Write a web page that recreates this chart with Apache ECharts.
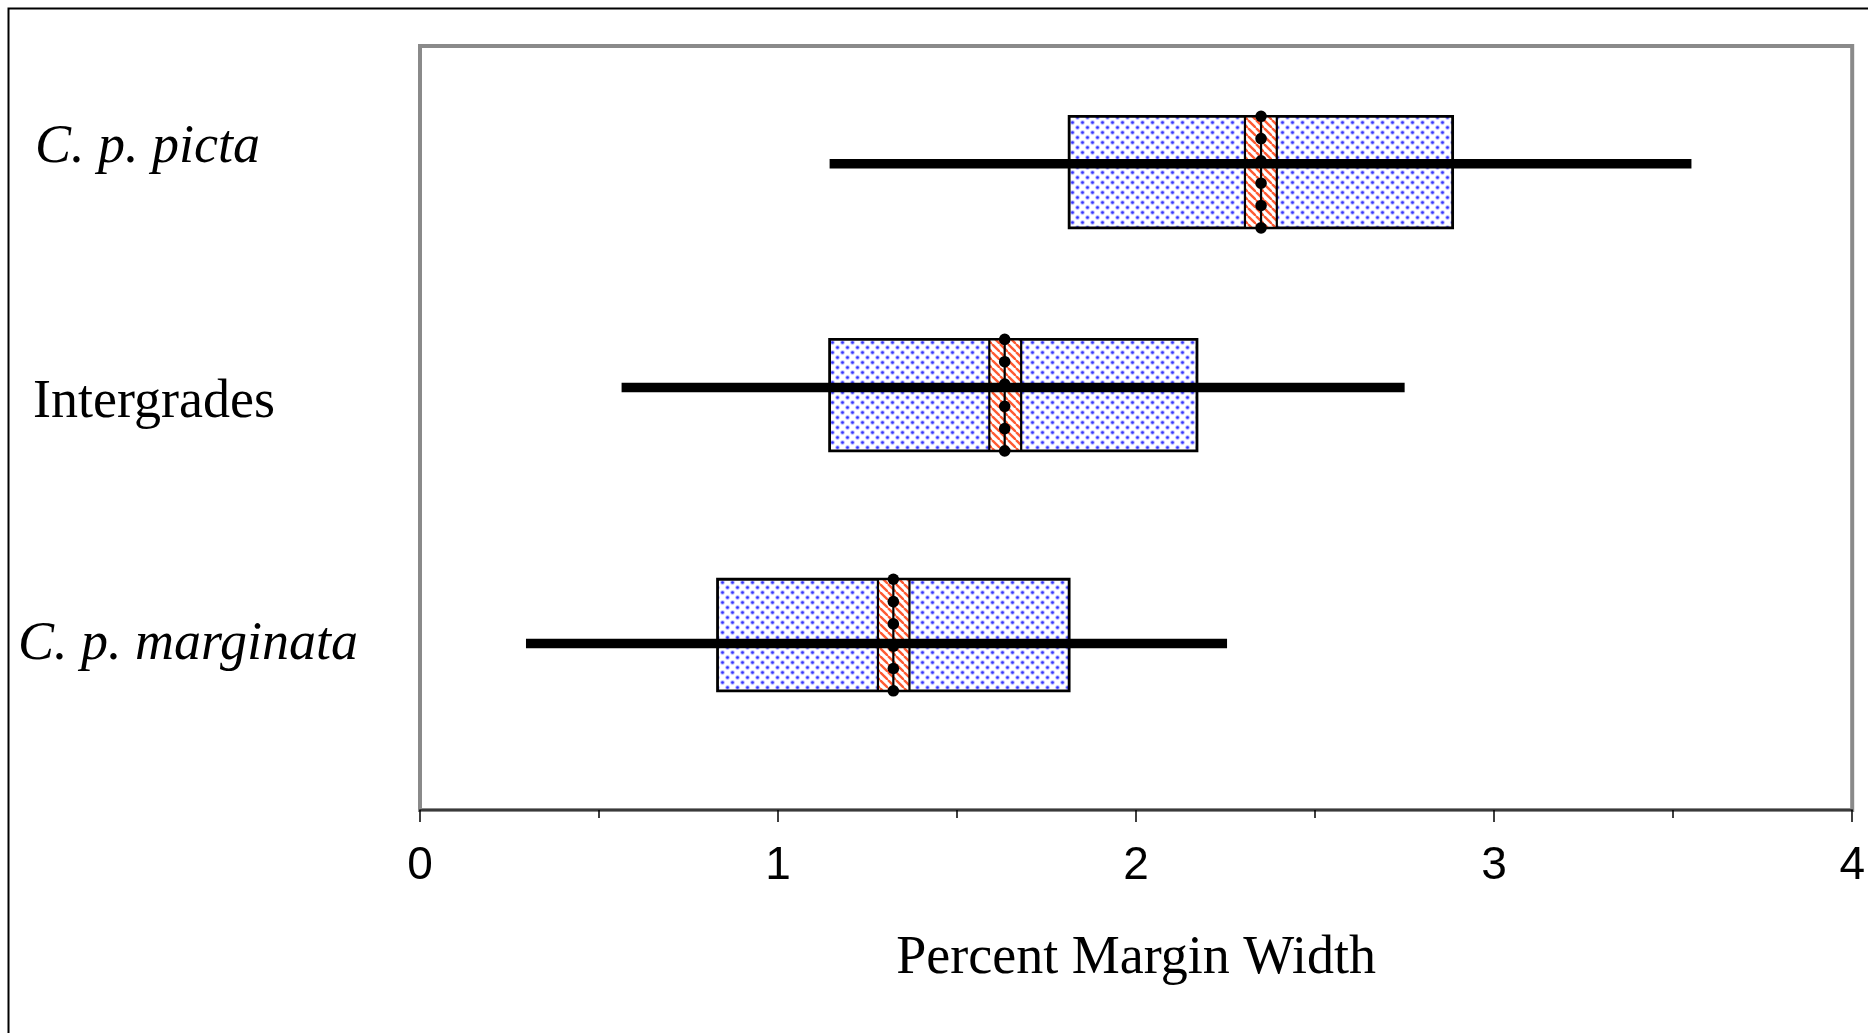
<!DOCTYPE html>
<html>
<head>
<meta charset="utf-8">
<script src="https://cdn.jsdelivr.net/npm/echarts@6/dist/echarts.min.js"></script>
<style>
html,body{margin:0;padding:0;background:#fff;}
#chart{width:1868px;height:1033px;}
</style>
</head>
<body>
<div id="chart"></div>
<script>
// ---- data ----
const categories = ['C. p. picta', 'Intergrades', 'C. p. marginata'];
const rangeMin  = [1.144, 0.563, 0.296];   // whisker left end
const rangeMax  = [3.551, 2.750, 2.254];   // whisker right end
const boxLow    = [1.813, 1.144, 0.831];   // dotted box left
const boxHigh   = [2.884, 2.170, 1.813];   // dotted box right
const ciLow     = [2.304, 1.590, 1.279];   // hatched box left
const ciHigh    = [2.393, 1.679, 1.367];   // hatched box right
const meanVal   = [2.349, 1.633, 1.322];   // mean (line with dots)
const rowY      = [8.35, 5.43, 2.29];      // row position on hidden y scale
const whiskerY  = [8.46, 5.53, 2.18];      // whisker position on hidden y scale
const xTicks    = [0, 1, 2, 3, 4];
const axisTitle = 'Percent Margin Width';

// ---- patterns ----
function dotPattern() {
  const c = document.createElement('canvas');
  c.width = 10; c.height = 10;
  const g = c.getContext('2d');
  g.fillStyle = '#ffffff'; g.fillRect(0, 0, 10, 10);
  [[2.5, 2.5], [7.5, 7.5]].forEach(function (p) {
    g.fillStyle = 'rgba(110,110,255,0.5)';
    g.beginPath(); g.arc(p[0], p[1], 2.3, 0, Math.PI * 2); g.fill();
    g.fillStyle = '#3333ff';
    g.beginPath(); g.arc(p[0], p[1], 1.3, 0, Math.PI * 2); g.fill();
  });
  return c;
}
function stripePattern() {
  const s = 8;
  const c = document.createElement('canvas');
  c.width = s; c.height = s;
  const g = c.getContext('2d');
  g.fillStyle = '#ffffff'; g.fillRect(0, 0, s, s);
  g.strokeStyle = '#ff5a32'; g.lineWidth = 2.4;
  [-s, 0, s].forEach(function (o) {
    g.beginPath(); g.moveTo(o, 0); g.lineTo(o + s, s); g.stroke();
  });
  return c;
}
const dotFill = { image: dotPattern(), repeat: 'repeat' };
const stripeFill = { image: stripePattern(), repeat: 'repeat' };

const seriesData = categories.map(function (c, i) {
  return [rangeMin[i], rangeMax[i], boxLow[i], boxHigh[i], ciLow[i], ciHigh[i], meanVal[i], rowY[i], whiskerY[i]];
});

const HALF = 0.73; // half height of boxes in y units

function renderItem(params, api) {
  const yc = api.value(7), yw = api.value(8);
  const tl = api.coord([api.value(2), yc + HALF]);
  const br = api.coord([api.value(3), yc - HALF]);
  const ctl = api.coord([api.value(4), yc + HALF]);
  const cbr = api.coord([api.value(5), yc - HALF]);
  const w1 = api.coord([api.value(0), yw]);
  const w2 = api.coord([api.value(1), yw]);
  const mt = api.coord([api.value(6), yc + HALF]);
  const mb = api.coord([api.value(6), yc - HALF]);
  const children = [
    { type: 'rect', shape: { x: tl[0], y: tl[1], width: br[0] - tl[0], height: br[1] - tl[1] },
      style: { fill: dotFill, stroke: '#000', lineWidth: 2.8 } },
    { type: 'rect', shape: { x: ctl[0], y: ctl[1], width: cbr[0] - ctl[0], height: cbr[1] - ctl[1] },
      style: { fill: stripeFill, stroke: '#000', lineWidth: 2.2 } },
    { type: 'line', shape: { x1: w1[0], y1: w1[1], x2: w2[0], y2: w2[1] },
      style: { stroke: '#000', lineWidth: 9.5, lineCap: 'butt' } },
    { type: 'line', shape: { x1: mt[0], y1: mt[1], x2: mb[0], y2: mb[1] },
      style: { stroke: '#000', lineWidth: 2.2 } }
  ];
  for (let k = 0; k < 6; k++) {
    const y = mt[1] + (mb[1] - mt[1]) * k / 5;
    children.push({ type: 'circle', shape: { cx: mt[0], cy: y, r: 5.8 }, style: { fill: '#000' } });
  }
  return { type: 'group', children: children };
}

const chart = echarts.init(document.getElementById('chart'), null, { renderer: 'canvas' });
chart.setOption({
  animation: false,
  backgroundColor: '#ffffff',
  grid: { left: 420, right: 14, top: 46, bottom: 223, show: true, borderColor: '#8a8a8a', borderWidth: 4, backgroundColor: 'transparent' },
  xAxis: {
    type: 'value', min: xTicks[0], max: xTicks[xTicks.length - 1], interval: 1,
    axisLine: { show: true, lineStyle: { color: '#3a3a3a', width: 2 } },
    axisTick: { show: true, length: 12, lineStyle: { color: '#000', width: 1.5 } },
    minorTick: { show: true, splitNumber: 2, length: 8, lineStyle: { color: '#000', width: 1.5 } },
    splitLine: { show: false },
    axisLabel: { margin: 33, fontSize: 46, fontFamily: 'Liberation Sans', color: '#000' },
    name: axisTitle, nameLocation: 'middle', nameGap: 122,
    nameTextStyle: { fontSize: 54, fontFamily: 'Liberation Serif', color: '#000' }
  },
  yAxis: { type: 'value', min: 0, max: 10, show: false },
  series: [{ type: 'custom', renderItem: renderItem, data: seriesData, clip: false }],
  graphic: [
    { type: 'rect', left: 6, top: 6, shape: { width: 1900, height: 1100 }, style: { fill: 'none', stroke: '#000', lineWidth: 2 }, silent: true },
    { type: 'text', left: 35, top: 121, style: { text: categories[0], font: 'italic 54px "Liberation Serif"', fill: '#000' } },
    { type: 'text', left: 33, top: 376, style: { text: categories[1], font: '54px "Liberation Serif"', fill: '#000' } },
    { type: 'text', left: 18, top: 618, style: { text: categories[2], font: 'italic 54px "Liberation Serif"', fill: '#000' } }
  ]
});
</script>
</body>
</html>
